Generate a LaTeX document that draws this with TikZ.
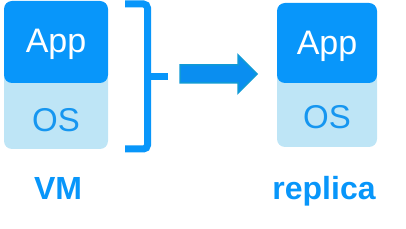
\documentclass[tikz,border=0pt]{standalone}
\usepackage{fontspec}
\setmainfont{Liberation Sans}
\definecolor{appblue}{RGB}{8,150,250}
\definecolor{oslight}{RGB}{190,229,246}
\definecolor{ostext}{RGB}{22,150,240}
\definecolor{arrowfill}{RGB}{10,142,240}
\definecolor{arrowedge}{RGB}{16,154,214}
\tikzset{
  appbox/.style={fill=appblue, rounded corners=8pt, inner sep=0pt},
  osbox/.style={fill=oslight, rounded corners=8pt, inner sep=0pt},
  apptext/.style={anchor=base, text=white, font=\fontsize{34}{36}\selectfont, inner sep=0pt},
  ostext/.style={anchor=base, text=ostext, font=\fontsize{33}{36}\selectfont, inner sep=0pt},
  captext/.style={anchor=base, text=appblue, font=\fontsize{32}{36}\selectfont\bfseries, inner sep=0pt},
  bracketline/.style={draw=appblue, line width=7pt, rounded corners=4pt},
}
\begin{document}
\begin{tikzpicture}[x=1pt,y=-1pt]
\useasboundingbox (0,0) rectangle (406,229);
% VM stack
\fill[osbox] (4,70) rectangle (108,149);
\fill[appbox] (4,1) rectangle (108,83);
\node[apptext] (vmapp) at (56,53) {App};
\node[ostext] (vmos) at (56,132) {OS};
\node[captext] (vm) at (58,200) {VM};
% bracket
\draw[bracketline] (125,4) -- (147.5,4) -- (147.5,149) -- (125,149);
\draw[draw=appblue, line width=7pt] (147.5,76.5) -- (168,76.5);
% arrow
\draw[fill=arrowfill, draw=arrowedge, line width=1.5pt, line join=miter]
  (180,65) -- (238,65) -- (238,55) -- (257,74) -- (238,93) -- (238,83) -- (180,83) -- cycle;
% replica stack
\fill[osbox] (277,70) rectangle (377,147);
\fill[appbox] (277,3) rectangle (377,83);
\node[apptext] (repapp) at (327,55) {App};
\node[ostext] (repos) at (327,129) {OS};
\node[captext] (rep) at (324,199) {replica};
\end{tikzpicture}
\end{document}
